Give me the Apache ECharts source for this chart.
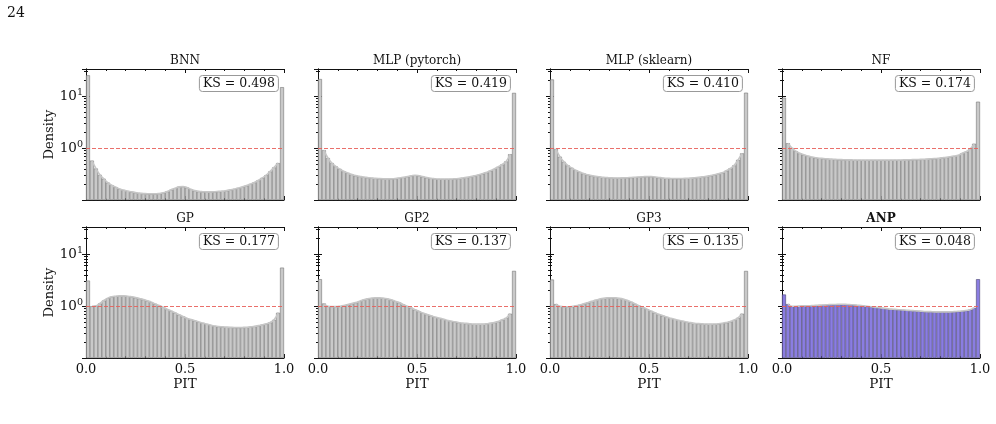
<!DOCTYPE html>
<html>
<head>
<meta charset="utf-8">
<script src="https://cdn.jsdelivr.net/npm/echarts@6/dist/echarts.min.js"></script>
<style>
html, body { margin: 0; padding: 0; background: #fff; }
#main { width: 996px; height: 424px; }
</style>
</head>
<body>
<div id="main"></div>
<script>
// page number printed above the figure
const pageNumber = '24'

const models = ['BNN', 'MLP (pytorch)', 'MLP (sklearn)', 'NF', 'GP', 'GP2', 'GP3', 'ANP']
const ksValues = ['0.498', '0.419', '0.410', '0.174', '0.177', '0.137', '0.135', '0.048']

// PIT histogram densities, 50 bins on [0, 1]
const densBNN = [25, 0.58, 0.41, 0.31, 0.26, 0.22, 0.196, 0.18, 0.166, 0.158, 0.151, 0.147, 0.142, 0.138, 0.136, 0.134, 0.134, 0.134, 0.136, 0.14, 0.149, 0.16, 0.172, 0.182, 0.185, 0.177, 0.164, 0.155, 0.149, 0.147, 0.146, 0.146, 0.147, 0.149, 0.151, 0.155, 0.16, 0.166, 0.173, 0.182, 0.193, 0.206, 0.222, 0.243, 0.27, 0.305, 0.36, 0.43, 0.52, 14.8]
const densMLPtorch = [21.2, 0.92, 0.65, 0.52, 0.45, 0.4, 0.362, 0.336, 0.316, 0.3, 0.29, 0.281, 0.275, 0.27, 0.265, 0.262, 0.26, 0.259, 0.26, 0.263, 0.269, 0.277, 0.286, 0.296, 0.304, 0.298, 0.286, 0.275, 0.266, 0.261, 0.258, 0.257, 0.257, 0.258, 0.26, 0.264, 0.27, 0.277, 0.286, 0.297, 0.31, 0.325, 0.345, 0.37, 0.4, 0.44, 0.49, 0.56, 0.77, 11.5]
const densMLPsk = [20.8, 0.97, 0.69, 0.55, 0.47, 0.42, 0.38, 0.35, 0.33, 0.312, 0.3, 0.29, 0.283, 0.278, 0.274, 0.271, 0.27, 0.27, 0.271, 0.273, 0.276, 0.279, 0.282, 0.285, 0.288, 0.287, 0.282, 0.276, 0.27, 0.266, 0.264, 0.263, 0.263, 0.264, 0.266, 0.268, 0.272, 0.277, 0.283, 0.29, 0.3, 0.31, 0.325, 0.34, 0.37, 0.41, 0.47, 0.6, 0.8, 11.6]
const densNF = [9.3, 1.25, 1.01, 0.88, 0.8, 0.75, 0.71, 0.68, 0.66, 0.645, 0.635, 0.625, 0.618, 0.612, 0.607, 0.603, 0.6, 0.598, 0.596, 0.595, 0.594, 0.594, 0.594, 0.594, 0.594, 0.594, 0.594, 0.595, 0.596, 0.597, 0.598, 0.6, 0.603, 0.606, 0.61, 0.615, 0.62, 0.627, 0.635, 0.645, 0.657, 0.67, 0.687, 0.708, 0.735, 0.8, 0.86, 0.96, 1.22, 7.8]
const densGP = [3.1, 1.0, 1.02, 1.13, 1.29, 1.43, 1.52, 1.56, 1.58, 1.58, 1.56, 1.52, 1.47, 1.41, 1.35, 1.27, 1.2, 1.11, 1.03, 0.96, 0.875, 0.81, 0.75, 0.69, 0.64, 0.59, 0.56, 0.53, 0.5, 0.476, 0.455, 0.435, 0.42, 0.41, 0.404, 0.398, 0.394, 0.392, 0.392, 0.393, 0.396, 0.402, 0.412, 0.425, 0.44, 0.46, 0.49, 0.55, 0.75, 5.5]
const densGP2 = [3.3, 1.13, 1.0, 0.985, 0.985, 1.0, 1.03, 1.08, 1.13, 1.18, 1.25, 1.33, 1.39, 1.43, 1.45, 1.45, 1.43, 1.39, 1.33, 1.25, 1.18, 1.08, 1.0, 0.94, 0.86, 0.8, 0.74, 0.7, 0.66, 0.62, 0.595, 0.57, 0.54, 0.52, 0.505, 0.49, 0.475, 0.47, 0.46, 0.455, 0.455, 0.455, 0.46, 0.475, 0.49, 0.51, 0.55, 0.595, 0.72, 4.76]
const densGP3 = [3.25, 1.1, 1.0, 0.98, 0.98, 0.99, 1.02, 1.06, 1.11, 1.17, 1.24, 1.31, 1.37, 1.42, 1.45, 1.46, 1.45, 1.42, 1.37, 1.3, 1.21, 1.11, 1.02, 0.95, 0.88, 0.81, 0.75, 0.7, 0.66, 0.62, 0.59, 0.565, 0.54, 0.52, 0.5, 0.485, 0.472, 0.465, 0.46, 0.456, 0.455, 0.457, 0.462, 0.472, 0.488, 0.51, 0.545, 0.6, 0.72, 4.75]
const densANP = [1.68, 1.1, 1.0, 1.0, 1.01, 1.02, 1.02, 1.03, 1.04, 1.05, 1.06, 1.07, 1.08, 1.08, 1.09, 1.09, 1.08, 1.07, 1.06, 1.04, 1.02, 1.0, 0.98, 0.96, 0.94, 0.92, 0.9, 0.88, 0.87, 0.86, 0.85, 0.84, 0.83, 0.82, 0.81, 0.8, 0.79, 0.79, 0.78, 0.78, 0.78, 0.78, 0.78, 0.79, 0.8, 0.81, 0.83, 0.86, 0.93, 3.3]
const densities = [densBNN, densMLPtorch, densMLPsk, densNF, densGP, densGP2, densGP3, densANP]

const xTickLabels = ['0.0', '0.5', '1.0']
const yTickLabels = [{ value: 1, exp: '0' }, { value: 10, exp: '1' }]

const nBins = 50
const bins = []
for (let k = 0; k < nBins; k++) bins.push(((k + 0.5) / nBins).toFixed(2))

const font = 'DejaVu Serif'
const colLeft = [86, 318, 550, 782]
const rowTop = [69, 227]
const plotW = 198
const plotH = 131
const yMin = 0.102
const yMax = 33

const myChart = echarts.init(document.getElementById('main'), null, { renderer: 'canvas' })

const grids = []
const xAxes = []
const yAxes = []
const series = []
const titles = [{
  text: pageNumber, left: 7, top: 6, padding: 0,
  textStyle: { fontFamily: font, fontSize: 14, fontWeight: 'normal', color: '#111' }
}]

const frameLine = { show: true, lineStyle: { color: '#111', width: 1 } }

for (let i = 0; i < models.length; i++) {
  const r = Math.floor(i / 4)
  const c = i % 4
  const bottomRow = r === 1
  const firstCol = c === 0
  const isANP = models[i] === 'ANP'

  grids.push({ left: colLeft[c], top: rowTop[r], width: plotW, height: plotH, outerBoundsMode: 'none', containLabel: false })

  // hidden category axis for bins, visible value axes for the frame
  xAxes.push({ type: 'category', gridIndex: i, data: bins, show: false, boundaryGap: true })
  xAxes.push({
    type: 'value', gridIndex: i, position: 'bottom', min: 0, max: 1, interval: 0.5,
    axisLine: frameLine,
    axisTick: { show: true, inside: true, length: 4, lineStyle: { color: '#111' } },
    minorTick: { show: true, splitNumber: 5, length: 2, lineStyle: { color: '#111' } },
    splitLine: { show: false },
    axisLabel: {
      show: bottomRow, margin: 5, showMinLabel: true, showMaxLabel: true,
      fontFamily: font, fontSize: 13, color: '#111',
      formatter: v => xTickLabels[Math.round(v / 0.5)]
    },
    name: bottomRow ? 'PIT' : '', nameLocation: 'middle', nameGap: 19,
    nameTextStyle: { fontFamily: font, fontSize: 13.5, color: '#111' }
  })
  xAxes.push({
    type: 'value', gridIndex: i, position: 'top', min: 0, max: 1, interval: 0.5,
    axisLine: frameLine,
    axisTick: { show: true, inside: true, length: 4, lineStyle: { color: '#111' } },
    minorTick: { show: true, splitNumber: 5, length: 2, lineStyle: { color: '#111' } },
    splitLine: { show: false }, axisLabel: { show: false }
  })
  yAxes.push({
    type: 'log', logBase: 10, gridIndex: i, position: 'left', min: yMin, max: yMax, startValue: yMin,
    axisLine: frameLine,
    axisTick: { show: true, inside: true, length: 4, lineStyle: { color: '#111' } },
    minorTick: { show: true, splitNumber: 9, length: 2, lineStyle: { color: '#111' } },
    splitLine: { show: false },
    axisLabel: {
      show: firstCol, margin: 3, color: '#111',
      formatter: v => {
        const t = yTickLabels.find(d => Math.abs(d.value - v) < 1e-6)
        return t ? '{b|10}{s|' + t.exp + '}' : ''
      },
      rich: {
        b: { fontFamily: font, fontSize: 13.5, color: '#111' },
        s: { fontFamily: font, fontSize: 9.5, color: '#111', padding: [0, 0, 8, 0] }
      }
    },
    name: firstCol ? 'Density' : '', nameLocation: 'middle', nameGap: 29,
    nameTextStyle: { fontFamily: font, fontSize: 13, color: '#111' }
  })
  yAxes.push({
    type: 'log', logBase: 10, gridIndex: i, position: 'right', min: yMin, max: yMax,
    axisLine: frameLine,
    axisTick: { show: true, inside: true, length: 4, lineStyle: { color: '#111' } },
    minorTick: { show: true, splitNumber: 9, length: 2, lineStyle: { color: '#111' } },
    splitLine: { show: false }, axisLabel: { show: false }
  })

  const dens = densities[i]
  series.push({
    type: 'bar', xAxisIndex: 3 * i, yAxisIndex: 2 * i, data: dens,
    barWidth: '100%', barCategoryGap: '0%', silent: true, z: 2,
    itemStyle: {
      color: isANP ? '#8a7de2' : '#c9c9c9',
      borderColor: isANP ? '#4a4470' : '#777777',
      borderWidth: 0.6
    },
    markLine: {
      symbol: ['none', 'none'], silent: true, label: { show: false },
      lineStyle: { color: '#e8605a', type: [4, 2], width: 0.9 },
      data: [{ yAxis: 1 }]
    }
  })
  // light smoothed outline over the bar tops
  series.push({
    type: 'line', xAxisIndex: 3 * i, yAxisIndex: 2 * i,
    data: dens.map((v, k) => (k === 0 || k === nBins - 1) ? '-' : v),
    smooth: true, showSymbol: false, silent: true, z: 3,
    lineStyle: { color: '#c6c6c6', width: 1.6 }
  })

  titles.push({
    text: models[i], left: colLeft[c] + plotW / 2, textAlign: 'center', top: rowTop[r] - 14, padding: 0,
    textStyle: { fontFamily: font, fontSize: 12, fontWeight: isANP ? 'bold' : 'normal', color: '#111' }
  })
  titles.push({
    text: 'KS = ' + ksValues[i],
    right: 996 - (colLeft[c] + plotW - 5), top: rowTop[r] + 6,
    padding: [2, 4], borderColor: '#999', borderWidth: 1, borderRadius: 3, backgroundColor: '#fff',
    textStyle: { fontFamily: font, fontSize: 12.5, fontWeight: 'normal', color: '#111' }
  })
}

myChart.setOption({
  animation: false,
  title: titles,
  grid: grids,
  xAxis: xAxes,
  yAxis: yAxes,
  series: series
})
</script>
</body>
</html>
